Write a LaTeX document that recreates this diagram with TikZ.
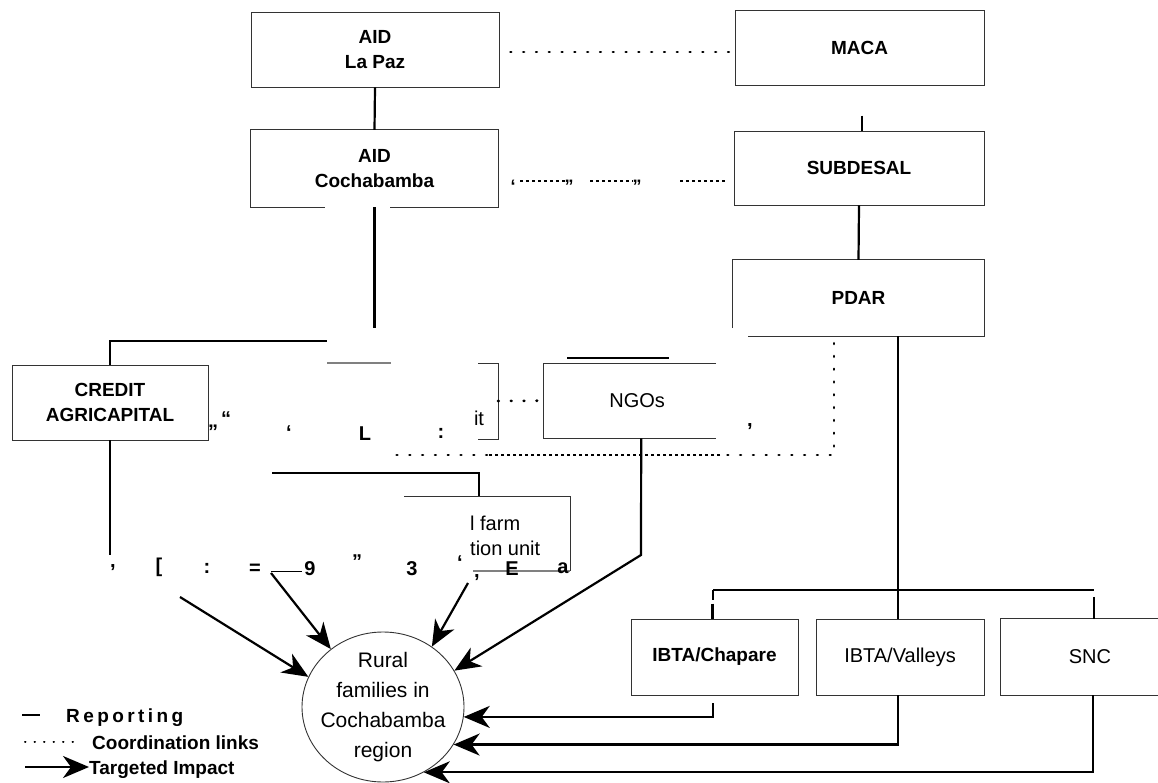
\documentclass[tikz,border=0pt]{standalone}
\usepackage{fontspec}
\setmainfont{Liberation Sans}
\usetikzlibrary{arrows.meta,shapes.geometric,calc}
\begin{document}
\begin{tikzpicture}[x=1pt,y=-1pt,
  box/.style={draw=black!80,line width=0.9pt,inner sep=0pt,align=center},
  openbox/.style={inner sep=0pt,align=center},
  bt/.style={font=\fontsize{19}{25}\selectfont\bfseries},
  rt/.style={font=\fontsize{20}{26}\selectfont},
  rep/.style={line width=2.2pt},
  edge/.style={draw=black!80,line width=0.9pt},
  faint/.style={draw=black!50,line width=1.3pt},
  coord/.style={line width=2.6pt,dash pattern=on 0.8pt off 12pt,line cap=round},
  dashy/.style={line width=1.4pt,dash pattern=on 3pt off 3pt},
  impact/.style={line width=2.2pt,-{Stealth[length=26pt,width=22pt,inset=8pt]}},
  junk/.style={font=\fontsize{20}{24}\selectfont\bfseries,inner sep=0pt,anchor=base},
  quote/.style={font=\fontsize{18}{20}\selectfont\bfseries,inner sep=0pt,anchor=base},
  leg/.style={font=\fontsize{19}{24}\selectfont\bfseries,inner sep=0pt,anchor=base west},
]
\useasboundingbox (0,0) rectangle (1158,783);

% ---------- boxes ----------
\node[box,bt,minimum width=248pt,minimum height=75pt] (lapaz) at (375,49.5) {\rule{0pt}{6pt}AID\\La Paz};
\node[box,bt,minimum width=249pt,minimum height=75pt] (maca) at (859.5,47.5) {MACA};
\node[openbox,bt,minimum width=247pt,minimum height=77pt] (coch) at (374.5,168.5) {\rule{0pt}{6pt}AID\\Cochabamba};
\draw[edge] ($(coch.south west)+(74,0)$) -- (coch.south west) -- (coch.north west) -- (coch.north east) -- (coch.south east) -- ($(coch.south east)+(-108,0)$);
\node[box,bt,minimum width=250pt,minimum height=74pt] (subdesal) at (859,168) {SUBDESAL};
\node[openbox,bt,minimum width=251pt,minimum height=76pt] (pdar) at (858.5,298) {PDAR};
\draw[edge] ($(pdar.south west)+(0,-8)$) -- (pdar.north west) -- (pdar.north east) -- (pdar.south east) -- ($(pdar.south west)+(15,0)$);
\node[box,bt,minimum width=196pt,minimum height=75pt] (credit) at (110,402.5) {CREDIT\\AGRICAPITAL};

% NGO box (right part missing)
\node[openbox,rt,minimum width=188pt,minimum height=75pt,anchor=north west] (ngo) at (543,363) {NGOs};
\draw[edge] ($(ngo.north west)+(173,0)$) -- (ngo.north west) -- (ngo.south west) -- ++(173,0);
\draw[line width=1.3pt] (567,358) -- (669,358);

% erased unit box
\draw[faint] (327,363) -- (391,363);
\draw[edge] (478,363) -- (498,363) -- (498,439) -- (478,439);
\coordinate (unitE) at (498,401);
\node[rt,inner sep=0pt,anchor=base] (unittext) at (479,425) {it};

% farm box (partly erased)
\draw[edge] (404,496) -- (570,496) -- (570,571);
\draw[faint] (473,571) -- (570,571);
\coordinate (farmtop) at (479,496);
\node[rt,inner sep=0pt,anchor=base west] (farm1) at (470,530) {l farm};
\node[rt,inner sep=0pt,anchor=base west] (farm2) at (470,555) {tion unit};

% bottom boxes
\node[box,bt,minimum width=167pt,minimum height=76pt] (chap) at (714.5,657) {IBTA/Chapare};
\node[box,rt,minimum width=168pt,minimum height=76pt] (vall) at (900,657) {IBTA/Valleys};
\node[openbox,rt,minimum width=178pt,minimum height=76pt] (snc) at (1090,657) {SNC};
\draw[edge] (snc.north east) -- (snc.north west) -- (snc.south west) -- (snc.south east);

% target circle
\node[draw=black!80,line width=0.9pt,ellipse,minimum width=162pt,minimum height=150pt,inner sep=0pt] (fam) at (383,707) {};
\node[align=center,inner sep=0pt,font=\fontsize{21}{30}\selectfont] (famtext) at (fam.center) {Rural\\families in\\Cochabamba\\region};

% ---------- reporting lines ----------
\draw[rep] (lapaz.south) -- (coch.north);
\draw[rep] ($(subdesal.north)+(3,-15)$) -- ($(subdesal.north)+(3,0)$);
\coordinate (cochend) at (374.5,328);
\draw[rep] (coch.south) -- (cochend);
\draw[rep] (subdesal.south) -- (pdar.north);
\coordinate (crtop) at (327,341);
\draw[rep] (credit.north) -- (credit.north |- crtop) -- (crtop);
\coordinate (crbot) at (110,555);
\draw[rep] (credit.south) -- (crbot);
\coordinate (farmbar) at (272,473);
\draw[rep] (farmbar) -- (farmbar -| farmtop) -- (farmtop);
\coordinate (bar) at (713,590);
\coordinate (barR) at (1094,590);
\draw[rep] ($(pdar.south)+(39.5,0)$) -- ($(vall.north)+(-2,0)$);
\draw[rep] (bar) -- (barR);
\draw[rep] (bar) -- ++(0,10);
\draw[rep] ($(chap.north)+(-2,-15)$) -- ($(chap.north)+(-2,0)$);
\draw[rep] ($(snc.north)+(4,-22)$) -- ($(snc.north)+(4,0)$);

% ---------- coordination links ----------
\draw[coord] ($(lapaz.east)+(11,2.5)$) -- ($(maca.west)+(-2,4.5)$);
\draw[dashy] (520,181) -- (565,181);
\draw[dashy] (590,181) -- (633,181);
\draw[dashy] (680,181) -- ($(subdesal.west)+(-7,13)$);
\node[quote] (q1) at (513,193) {‘};
\node[quote] (q2) at (569,193) {”};
\node[quote] (q3) at (637,193) {”};
\draw[coord] (unitE) -- (ngo.west);
\coordinate (dotc) at (834,455);
\draw[coord] ($(pdar.south)+(-24.5,7)$) -- (dotc) -- (720,455);
\draw[dashy] (720,455) -- (487,455);
\draw[coord] (487,455) -- (385,455);

% ---------- targeted impact ----------
\coordinate (a1) at (180,597);
\coordinate (a2) at (271,573);
\coordinate (a3) at (468,583);
\coordinate (a4) at (641,555);
\draw[impact] (a1) -- (fam.158);
\draw[impact] (a2) -- (fam.132);
\draw[impact] (a3) -- (fam.51);
\draw[impact] ($(ngo.south)+(4,0)$) -- (a4) -- (fam.27);
\draw[impact] ($(chap.south)+(-1.5,8)$) |- (fam.-7);
\draw[impact] ($(vall.south)+(-2,0)$) |- (fam.-28);
\draw[impact] ($(snc.south)+(3,0)$) |- (fam.-58);
\draw[line width=1pt] (a2) ++(0,-2) -- ++(31,0);

% ---------- stray characters ----------
\node[junk] (j1) at (213,427) {„};
\node[junk] (j2) at (226,425) {“};
\node[junk] (j3) at (289,439) {‘};
\node[junk] (j4) at (365,440) {L};
\node[junk] (j5) at (441,438) {:};
\node[junk] (j6) at (750,426) {,};
\node[junk] (k1) at (113,567) {,};
\node[junk] (k2) at (159,572) {[};
\node[junk] (k3) at (207,573) {:};
\node[junk] (k4) at (255,574) {=};
\node[junk] (k5) at (310,575) {9};
\node[junk] (k6) at (357,568) {”};
\node[junk] (k7) at (412,575) {3};
\node[junk] (k8) at (460,569) {‘};
\node[junk] (k9) at (477,577) {,};
\node[junk] (k10) at (512,575) {E};
\node[junk] (k11) at (563,573) {a};

% ---------- legend ----------
\coordinate (l1a) at (22,715);
\coordinate (l1b) at (40,715);
\draw[rep] (l1a) -- (l1b);
\node[leg] (lrep) at (66,722) {\addfontfeatures{LetterSpace=18}Reporting};
\coordinate (l2a) at (25,742);
\coordinate (l2b) at (80,742);
\draw[line width=2pt,dash pattern=on 0.5pt off 9pt,line cap=round] (l2a) -- (l2b);
\node[leg] (lcoord) at (92,749) {Coordination links};
\coordinate (l3a) at (25,767);
\coordinate (l3b) at (89,767);
\draw[impact] (l3a) -- (l3b);
\node[leg] (limp) at (89,774) {Targeted Impact};
\end{tikzpicture}
\end{document}
